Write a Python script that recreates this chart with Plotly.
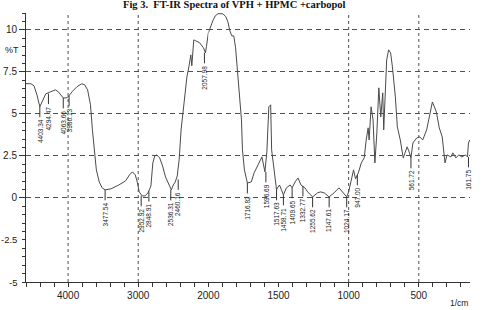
import numpy as np
import plotly.graph_objects as go

# ---- data ----
wavenumber = [4600, 4528, 4486, 4444, 4403, 4361, 4319, 4250, 4181, 4139, 4097, 4069, 4028, 4000,
              3944, 3875, 3806, 3764, 3722, 3681, 3653, 3625, 3597, 3556, 3514, 3472, 3389, 3278,
              3181, 3125, 3083, 3042, 3014, 2986, 2944, 2903, 2861, 2819, 2806, 2792, 2764, 2736,
              2694, 2653, 2611, 2556, 2528, 2500, 2472, 2444, 2417, 2389, 2361, 2333, 2306, 2278,
              2250, 2236, 2222, 2208, 2181, 2125, 2069, 2042, 2028, 2000,
              1986, 1965, 1951, 1931, 1896, 1875, 1861, 1847, 1833, 1819, 1806, 1792, 1778, 1764,
              1757, 1743, 1722, 1694, 1674, 1639, 1618, 1597, 1583, 1569, 1556, 1549, 1535, 1521,
              1514, 1507, 1493, 1479, 1465, 1444, 1417, 1403, 1382, 1361, 1340, 1312, 1292, 1257,
              1222, 1201, 1174, 1139, 1104, 1069, 1035, 1014, 1000, 986, 965, 951, 931, 910, 889,
              875, 861, 854, 840, 826, 813, 799, 792, 785, 771, 757, 750, 743, 729, 715, 701, 688,
              667, 653, 632, 611, 583, 569, 556, 542, 514, 493, 472, 444, 424, 403, 375, 354, 333,
              313, 299, 271, 257, 236, 215, 194, 167, 153, 146, 137]
transmittance = [6.80, 6.79, 6.67, 6.13, 5.42, 5.83, 6.19, 6.31, 6.43, 6.31, 6.07, 5.95, 5.95, 6.01,
                 6.31, 6.61, 6.79, 6.73, 6.43, 5.54, 4.05, 2.68, 1.67, 0.95, 0.60, 0.48, 0.54, 0.77,
                 1.01, 1.37, 1.55, 1.37, 0.95, 0.36, 0.12, 0.12, 0.30, 0.71, 1.37, 2.08, 2.50, 2.56,
                 2.38, 1.90, 1.25, 0.71, 0.48, 0.77, 0.95, 1.31, 2.26, 4.05, 5.24, 6.43, 7.20, 7.80,
                 8.51, 7.86, 8.99, 9.40, 9.35, 9.23, 8.93, 8.63, 8.99, 9.82,
                 10.18, 10.60, 10.83, 10.96, 10.95, 10.77, 10.48, 9.94, 9.64, 9.64, 8.93, 7.62, 6.01, 4.64,
                 2.86, 1.67, 0.89, 0.95, 1.49, 2.08, 2.44, 1.55, 2.74, 5.42, 5.54, 2.86, 1.96, 1.07,
                 0.48, 0.60, 0.77, 0.48, 0.18, 0.60, 0.77, 0.60, 0.95, 1.19, 0.77, 0.60, 0.36, 0.06,
                 0.30, 0.36, 0.30, 0.06, 0.30, 0.60, 0.30, 0.06, 0.36, 0.89, 1.67, 1.13, 1.49, 2.08, 2.38,
                 3.45, 4.17, 3.45, 5.42, 4.64, 2.08, 3.87, 5.06, 6.55, 4.82, 6.25, 4.05, 5.65, 8.21, 8.81, 8.63, 7.80,
                 6.01, 4.23, 3.45, 2.38, 3.04, 2.74, 2.38, 3.27, 3.57, 3.63, 3.45, 4.05, 4.82, 5.71, 5.12, 4.17, 3.63,
                 2.08, 2.56, 2.44, 2.68, 2.38, 2.56, 2.44, 2.56, 2.44, 3.27, 3.45]

peak_labels = ["4403.34", "4294.47", "4063.66", "3986.13", "3477.54", "2952.92", "2848.91",
               "2536.31", "2460.16", "2057.98", "1716.82", "1596.69", "1517.63", "1458.71",
               "1409.65", "1332.77", "1255.62", "1147.61", "1024.17", "947.00", "561.72", "161.75"]
peak_wn = [4403, 4280, 4069, 3986, 3472, 2958, 2848, 2536, 2430, 2056, 1722, 1590, 1514, 1465,
           1403, 1326, 1257, 1139, 1014, 938, 556, 146]
peak_T = [5.42, 6.2, 5.95, 6.07, 0.48, 0.12, 0.4, 0.48, 1.1, 8.63, 0.89, 1.55, 0.48, 0.18,
          0.6, 0.71, 0.06, 0.06, 0.06, 1.37, 2.38, 2.44]

grid_T = [0, 2.5, 5, 7.5, 10]
grid_ticktext = ["0", "2.5", "5", "7.5", "10"]
neg_ticks = [-2.5, -5]
neg_ticktext = ["-2.5", "-5"]
grid_wn = [4000, 3000, 1000, 500]

# ---- layout geometry: split scale at 2000 (high range compressed 2x) ----
W, H = 485, 310
ML, MR, MT, MB = 26, 3, 13, 28
PH = H - MT - MB
PW = W - ML - MR
x_lo_end = 4600
x_hi_end = 135
Y_MIN, Y_MAX = -5, 11
len1 = (x_lo_end - 2000) * 1.0
len2 = (2000 - x_hi_end) * 2.0
split = len1 / (len1 + len2)

wn = np.array(wavenumber, dtype=float)
tt = np.array(transmittance, dtype=float)
m1 = wn >= 2000
m2 = wn <= 2000

LINE = "#4a4a4a"
GRID = "#505050"
FONT = "Liberation Sans"
TICKFONT = dict(family=FONT, size=10, color="#222222")

fig = go.Figure()

# vertical dashed grid lines (only at selected wavenumbers)
for g in grid_wn:
    fig.add_trace(go.Scatter(x=[g, g], y=[Y_MIN, Y_MAX], mode="lines",
                             xaxis="x" if g >= 2000 else "x2", yaxis="y",
                             line=dict(color=GRID, width=1, dash="3px,3px"),
                             showlegend=False, hoverinfo="skip"))

fig.add_trace(go.Scatter(x=wn[m1], y=tt[m1], mode="lines", xaxis="x", yaxis="y",
                         line=dict(color=LINE, width=1), showlegend=False, hoverinfo="skip"))
fig.add_trace(go.Scatter(x=wn[m2], y=tt[m2], mode="lines", xaxis="x2", yaxis="y",
                         line=dict(color=LINE, width=1), showlegend=False, hoverinfo="skip"))

shapes = []
annotations = []
gap = 0.62
for lab, w, t in zip(peak_labels, peak_wn, peak_T):
    xr = "x" if w >= 2000 else "x2"
    shapes.append(dict(type="line", xref=xr, yref="y", x0=w, x1=w, y0=t, y1=t - gap,
                       line=dict(color="#333333", width=1)))
    annotations.append(dict(x=w, y=t - gap, xref=xr, yref="y", text=lab, showarrow=False,
                            textangle=-90, xanchor="center", yanchor="top",
                            font=dict(family=FONT, size=6.5, color="#222222")))

# negative tick labels (no grid lines there in the reference)
for v, txt in zip(neg_ticks, neg_ticktext):
    annotations.append(dict(x=-7 / PW, xref="paper", y=v, yref="y", text=txt, showarrow=False,
                            xanchor="right", yanchor="middle",
                            font=dict(family=FONT, size=9.5, color="#222222")))

annotations.append(dict(x=0.47, xref="paper", y=1 + (MT - 4) / PH, yref="paper",
                        text="<b>Fig 3.  FT-IR Spectra of VPH + HPMC +carbopol</b>", showarrow=False,
                        xanchor="center", yanchor="middle",
                        font=dict(family="Liberation Serif", size=10.5, color="#111111")))
annotations.append(dict(x=(2 - ML) / PW, xref="paper", y=(H - MB - 50) / PH, yref="paper",
                        text="%T", showarrow=False, xanchor="left", yanchor="middle",
                        font=dict(family=FONT, size=9, color="#222222")))
annotations.append(dict(x=1, xref="paper", y=-(303 - (H - MB)) / PH, yref="paper",
                        text="1/cm", showarrow=False, xanchor="right", yanchor="middle",
                        font=dict(family=FONT, size=8.5, color="#222222")))

axis_common = dict(showgrid=False, zeroline=False, showline=True, linecolor="#333333", linewidth=1,
                   ticks="outside", ticklen=4, tickcolor="#333333", tickfont=TICKFONT)

fig.update_layout(
    width=W, height=H,
    margin=dict(l=ML, r=MR, t=MT, b=MB, pad=0),
    paper_bgcolor="white", plot_bgcolor="white",
    xaxis=dict(domain=[0, split], range=[x_lo_end, 2000], tickmode="array",
               tickvals=[4000, 3000, 2000], ticktext=["4000", "3000", "2000"],
               minor=dict(dtick=200, ticks="outside", ticklen=4, tickcolor="#333333", showgrid=False),
               anchor="y", **axis_common),
    xaxis2=dict(domain=[split, 1], range=[2000, x_hi_end], tickmode="array",
                tickvals=[1500, 1000, 500], ticktext=["1500", "1000", "500"],
                minor=dict(dtick=100, ticks="outside", ticklen=4, tickcolor="#333333", showgrid=False),
                anchor="y", **axis_common),
    yaxis=dict(range=[Y_MIN, Y_MAX], tickmode="array", tickvals=grid_T, ticktext=grid_ticktext,
               showgrid=True, gridcolor=GRID, gridwidth=1, griddash="5px,4px",
               zeroline=False, showline=True, linecolor="#333333", linewidth=1,
               ticks="outside", ticklen=6, tickcolor="#333333",
               minor=dict(dtick=0.5, ticks="outside", ticklen=3, tickcolor="#333333", showgrid=False),
               tickfont=TICKFONT),
    shapes=shapes,
    annotations=annotations,
)

fig.write_html("out.html")
